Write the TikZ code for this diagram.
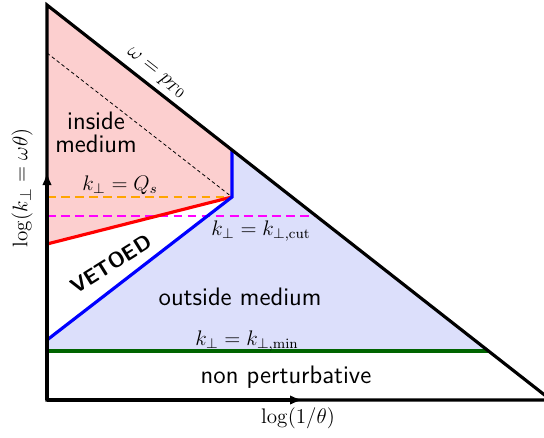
\documentclass[tikz,border=0pt]{standalone}
\usepackage{amsmath,amssymb}
\usepackage{xcolor}
\usepackage{tikz}
\usetikzlibrary{arrows.meta,calc}
\definecolor{insidepink}{HTML}{FCCFCF}
\definecolor{outsideblue}{HTML}{DCDFFB}
\definecolor{qsorange}{HTML}{FFA500}
\definecolor{cutmagenta}{HTML}{FF00FF}
\definecolor{mingreen}{HTML}{006400}
\definecolor{vetored}{HTML}{FF0000}
\definecolor{vetoblue}{HTML}{0000FF}
\tikzset{
  boundary/.style={line width=1.8pt, draw=black, line join=miter},
  axisarrow/.style={-{Latex[length=2.6mm, width=1.9mm]}, line width=1.8pt, draw=black},
  vetoline/.style={line width=1.8pt},
  scaleline/.style={dashed, line width=1.1pt, dash pattern=on 5pt off 3pt},
  guideline/.style={dashed, line width=0.45pt, dash pattern=on 2pt off 1.5pt},
  regionlabel/.style={font=\sffamily\Large, align=center, inner sep=1pt},
  scalelabel/.style={font=\large, inner sep=1pt},
  axislabel/.style={font=\fontsize{13.2}{15}\selectfont, inner sep=1pt}
}

\begin{document}
\begin{tikzpicture}[x=0.02cm, y=-0.02cm]
  \useasboundingbox (0,0) rectangle (544,437);
  \coordinate (origin) at (47,400);
  \coordinate (top) at (47,5);
  \coordinate (corner) at (551,400);
  \coordinate (yarrow) at (47,172);
  \coordinate (xarrow) at (303,400);
  \coordinate (hub) at (232,197);
  \coordinate (edge) at (232,150);
  \coordinate (redstart) at (47,244);
  \coordinate (bluestart) at (47,340);
  \coordinate (qsleft) at (47,197);
  \coordinate (cutleft) at (47,216);
  \coordinate (cutright) at (316,216);
  \coordinate (minleft) at (47,351);
  \coordinate (minright) at (488,351);
  \coordinate (guidetop) at (47,53);
  \fill[insidepink] (top) -- (edge) -- (hub) -- (redstart) -- cycle;
  \fill[outsideblue] (edge) -- (minright) -- (minleft) -- (bluestart) -- (hub) -- cycle;
  \draw[guideline] (guidetop) -- (hub);
  \draw[scaleline, draw=qsorange] (qsleft) -- (hub);
  \draw[scaleline, draw=cutmagenta] (cutleft) -- (cutright);
  \draw[vetoline, draw=vetored] (redstart) -- (hub);
  \draw[vetoline, draw=vetoblue] (bluestart) -- (hub) -- (edge);
  \draw[vetoline, draw=mingreen] (minleft) -- (minright);
  \draw[boundary] (origin) -- (top) -- node[pos=0.2, above=2pt, sloped, scalelabel] (hyplabel) {$\omega = p_{T0}$} (corner) -- cycle;
  \draw[axisarrow] (origin) -- (yarrow);
  \draw[axisarrow] (origin) -- (xarrow);
  \node[regionlabel] (inside) at (96,132) {inside\\[-5pt]medium};
  \node[regionlabel] (outside) at (240,297) {outside medium};
  \node[regionlabel] (nonpert) at (286,377) {non perturbative};
  \node[font=\sffamily\bfseries\large, rotate=32] (vetoed) at (111,264) {VETOED};
  \node[scalelabel] (qslabel) at (120,185) {$k_\perp = Q_s$};
  \node[scalelabel] (cutlabel) at (261,231) {$k_\perp = k_{\perp,\mathrm{cut}}$};
  \node[scalelabel] (minlabel) at (247,341) {$k_\perp = k_{\perp,\min}$};
  \node[axislabel] (xlabel) at (298,418) {$\log(1/\theta)$};
  \node[axislabel, rotate=90] (ylabel) at (22,188) {$\log(k_\perp = \omega\theta)$};
\end{tikzpicture}
\end{document}
